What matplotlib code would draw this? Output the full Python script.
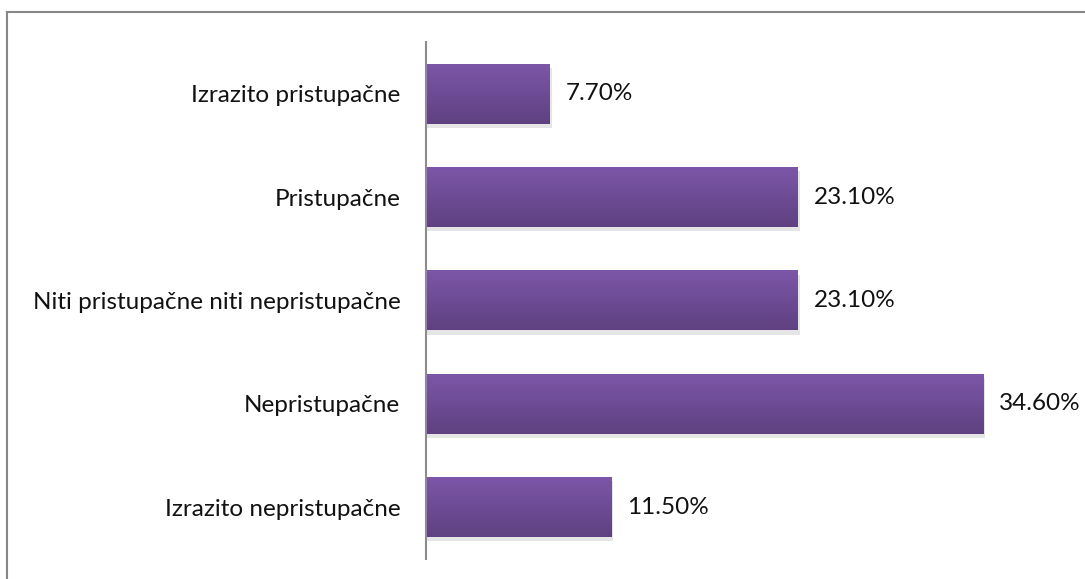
import numpy as np
import matplotlib.pyplot as plt
from matplotlib.lines import Line2D
from matplotlib.colors import LinearSegmentedColormap

categories = ['Izrazito pristupačne', 'Pristupačne',
              'Niti pristupačne niti nepristupačne', 'Nepristupačne',
              'Izrazito nepristupačne']
values = [7.70, 23.10, 23.10, 34.60, 11.50]
value_labels = ['7.70%', '23.10%', '23.10%', '34.60%', '11.50%']

W, H = 1085, 579
fig = plt.figure(figsize=(W / 100, H / 100), dpi=100)
plt.rcParams['font.family'] = ['Lato', 'DejaVu Sans']

# axes placed in pixel terms: zero line at x=426, rows from y=42 to y=559
ax = fig.add_axes([426 / W, (H - 559) / H, 644 / W, 517 / H])

# light on top, darker at the bottom
grad = LinearSegmentedColormap.from_list('bar', ['#7c56a8', '#5f4181'])
bar_h = 0.58
ypos = np.arange(len(categories))
for y, v in zip(ypos, values):
    # soft shadow
    ax.add_patch(plt.Rectangle((0, y - bar_h / 2 + 0.04), v + 0.12, bar_h,
                               color='#000000', alpha=0.10, lw=0, zorder=1))
    img = np.linspace(0, 1, 100).reshape(-1, 1)
    ax.imshow(img, cmap=grad, aspect='auto', zorder=2, origin='upper',
              extent=(0, v, y + bar_h / 2, y - bar_h / 2))
for y, v, lab in zip(ypos, values, value_labels):
    ax.text(v + 1.0, y, lab, va='center', ha='left', fontsize=17.5, color='#111111')

ax.set_xlim(0, 40)
ax.set_ylim(len(categories) - 0.5, -0.5)
ax.set_yticks(ypos)
ax.set_yticklabels(categories, fontsize=17.5, color='#111111')
ax.tick_params(axis='y', length=0, pad=18.5)
ax.set_xticks([])
for s in ['top', 'right', 'bottom']:
    ax.spines[s].set_visible(False)
ax.spines['left'].set_color('#8c8c8c')
ax.spines['left'].set_linewidth(1.5)

# outer chart frame (only top and left edges visible in the crop)
fig.add_artist(Line2D([7 / W, 1], [1 - 12 / H, 1 - 12 / H], color='#878787', lw=1.5,
                      transform=fig.transFigure))
fig.add_artist(Line2D([7 / W, 7 / W], [0, 1 - 12 / H], color='#878787', lw=1.5,
                      transform=fig.transFigure))

plt.savefig('out.png', dpi=100)
